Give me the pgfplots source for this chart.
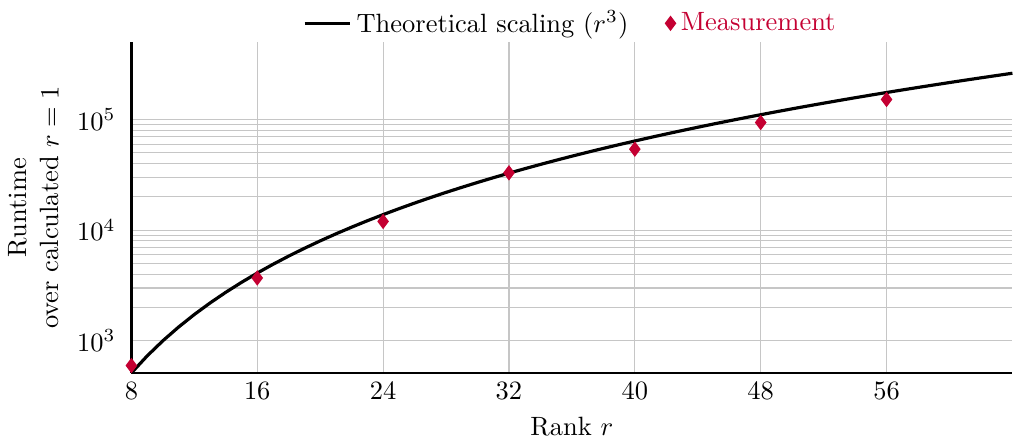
\documentclass[border=0pt]{standalone}
\usepackage{pgfplots}
\pgfplotsset{compat=1.18}
\definecolor{meas}{RGB}{196,0,50}
\begin{document}
\begin{tikzpicture}
\begin{axis}[
  scale only axis, width=333pt, height=125pt,
  xmin=8, xmax=64, ymin=512, ymax=5e5,
  ymode=log,
  xtick={8,16,24,32,40,48,56},
  ytick={1e3,1e4,1e5},
  axis x line*=bottom, axis y line*=left,
  axis line style={-, line width=0.9pt},
  grid=both,
  major grid style={gray!45, line width=0.4pt},
  minor grid style={gray!45, line width=0.4pt},
  minor x tick num=0,
  tick style={draw=none},
  yticklabel style={xshift=-2.5pt},
  xlabel={Rank $r$},
  ylabel={Runtime\\over calculated $r=1$},
  ylabel style={align=center},
  legend style={at={(0.5,0.985)}, anchor=south, draw=none, fill=none, legend columns=2, /tikz/every even column/.append style={column sep=12pt}},
  legend cell align=left,
  clip=false,
]
\addplot[black, line width=1.2pt, no marks] coordinates {
(8,512)(9,729)(10,1000)(11,1331)(12,1728)(13,2197)(14,2744)(15,3375)(16,4096)(17,4913)(18,5832)(19,6859)(20,8000)(21,9261)(22,10648)(23,12167)(24,13824)(25,15625)(26,17576)(27,19683)(28,21952)(29,24389)(30,27000)(31,29791)(32,32768)(33,35937)(34,39304)(35,42875)(36,46656)(37,50653)(38,54872)(39,59319)(40,64000)(41,68921)(42,74088)(43,79507)(44,85184)(45,91125)(46,97336)(47,103823)(48,110592)(49,117649)(50,125000)(51,132651)(52,140608)(53,148877)(54,157464)(55,166375)(56,175616)(57,185193)(58,195112)(59,205379)(60,216000)(61,226981)(62,238328)(63,250047)(64,262144)
};
\addlegendentry{Theoretical scaling ($r^3$)}
\addplot[only marks, mark=diamond*, mark size=2.6pt, color=meas] coordinates {
(8,597)(16,3700)(24,12000)(32,33000)(40,54000)(48,94000)(56,152000)
};
\addlegendentry{\textcolor{meas}{Measurement}}
\end{axis}
\end{tikzpicture}
\end{document}
